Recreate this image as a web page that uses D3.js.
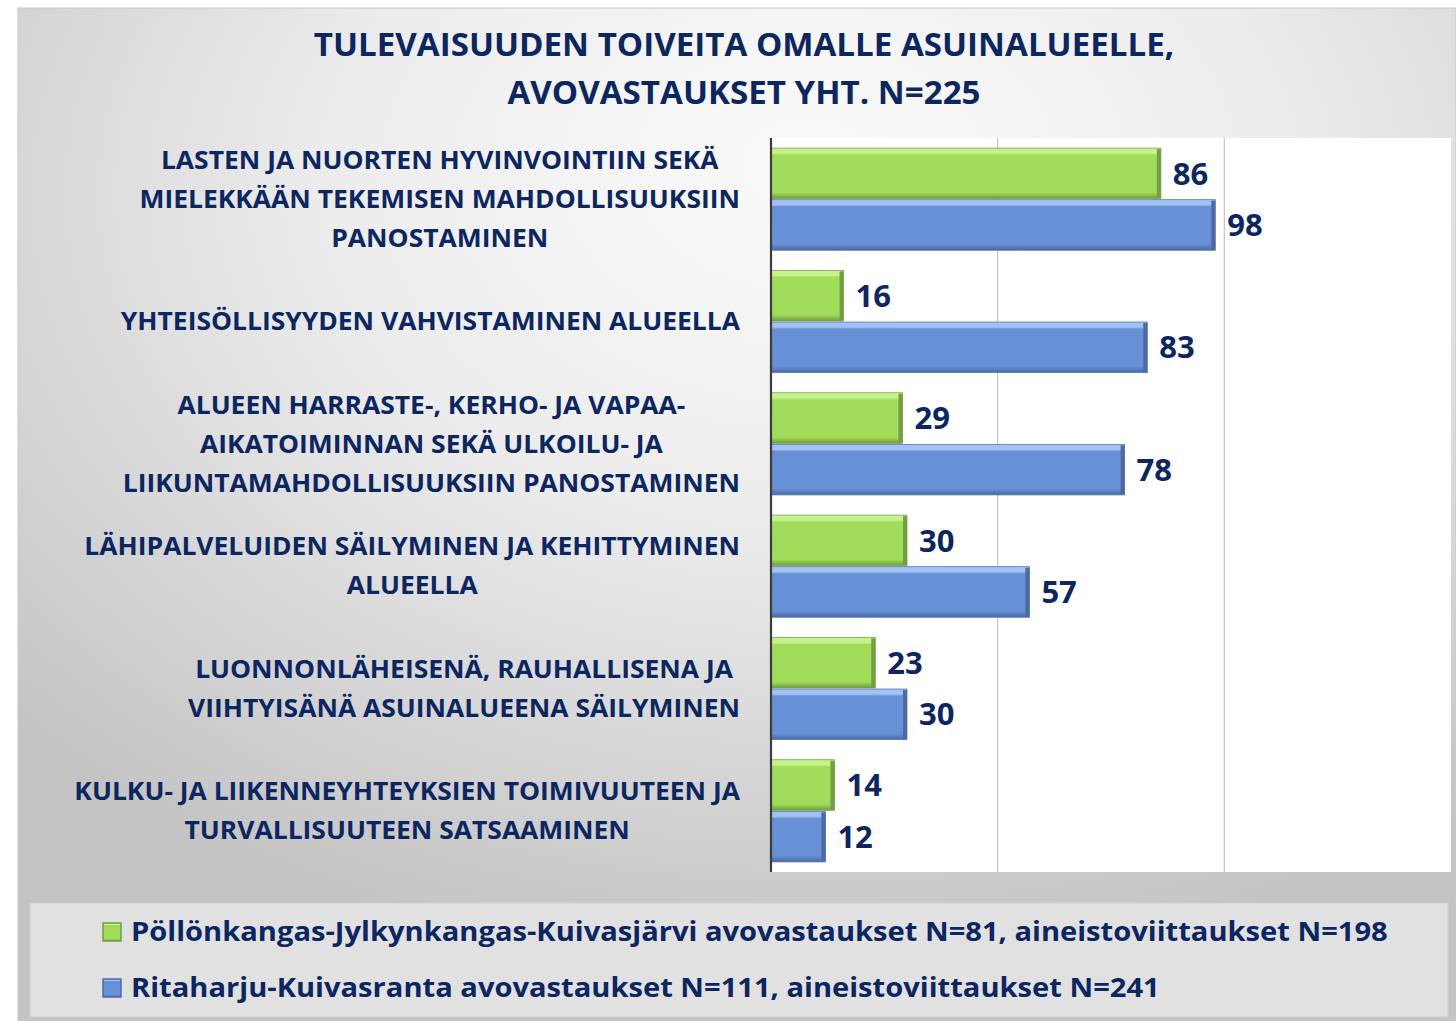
<!DOCTYPE html>
<html><head><meta charset="utf-8">
<script src="https://cdn.jsdelivr.net/npm/d3@7"></script>
<style>html,body{margin:0;padding:0;background:#fff;}svg{display:block;}</style>
</head><body>
<svg id="chart" width="1456" height="1021"></svg>
<script>
const titleLines = ["TULEVAISUUDEN TOIVEITA OMALLE ASUINALUEELLE,", "AVOVASTAUKSET YHT. N=225"];
const categories = [
  ["LASTEN JA NUORTEN HYVINVOINTIIN SEKÄ", "MIELEKKÄÄN TEKEMISEN MAHDOLLISUUKSIIN", "PANOSTAMINEN"],
  ["YHTEISÖLLISYYDEN VAHVISTAMINEN ALUEELLA"],
  ["ALUEEN HARRASTE-, KERHO- JA VAPAA-", "AIKATOIMINNAN SEKÄ ULKOILU- JA", "LIIKUNTAMAHDOLLISUUKSIIN PANOSTAMINEN"],
  ["LÄHIPALVELUIDEN SÄILYMINEN JA KEHITTYMINEN", "ALUEELLA"],
  ["LUONNONLÄHEISENÄ, RAUHALLISENA JA", "VIIHTYISÄNÄ ASUINALUEENA SÄILYMINEN"],
  ["KULKU- JA LIIKENNEYHTEYKSIEN TOIMIVUUTEEN JA", "TURVALLISUUTEEN SATSAAMINEN"]
];
const seriesNames = [
  "Pöllönkangas-Jylkynkangas-Kuivasjärvi avovastaukset N=81, aineistoviittaukset N=198",
  "Ritaharju-Kuivasranta avovastaukset N=111, aineistoviittaukset N=241"
];
const greenValues = [86, 16, 29, 30, 23, 14];
const blueValues = [98, 83, 78, 57, 30, 12];
const xTicks = [0, 50, 100, 150];

const W = 1456, H = 1021;
const FONT = "'Open Sans', 'DejaVu Sans', sans-serif";
const NAVY = "#0b2660";
const svg = d3.select("#chart");
const defs = svg.append("defs");

// background gradient
const bg = defs.append("radialGradient").attr("id", "bgGrad")
  .attr("cx", "0.55").attr("cy", "0.2").attr("r", "0.75").attr("fx", "0.55").attr("fy", "0.15");
bg.append("stop").attr("offset", "0%").attr("stop-color", "#fbfbfb");
bg.append("stop").attr("offset", "45%").attr("stop-color", "#ececec");
bg.append("stop").attr("offset", "100%").attr("stop-color", "#c4c4c4");

function barGrad(id, light, main, dark) {
  const g = defs.append("linearGradient").attr("id", id).attr("x1", 0).attr("y1", 0).attr("x2", 0).attr("y2", 1);
  g.append("stop").attr("offset", "0%").attr("stop-color", light);
  g.append("stop").attr("offset", "10%").attr("stop-color", light);
  g.append("stop").attr("offset", "14%").attr("stop-color", main);
  g.append("stop").attr("offset", "88%").attr("stop-color", main);
  g.append("stop").attr("offset", "100%").attr("stop-color", dark);
}
barGrad("gGreen", "#c6f28c", "#a0dc5a", "#6f9b3c");
barGrad("gBlue", "#a2c2f4", "#6890d6", "#4a68a6");
const colors = [{fill: "url(#gGreen)", edge: "#739f40", stroke: "#7aa648"}, {fill: "url(#gBlue)", edge: "#4b6aa6", stroke: "#5577b4"}];

svg.append("rect").attr("x", 0).attr("y", 0).attr("width", W).attr("height", H).attr("fill", "#ffffff");
svg.append("rect").attr("x", 18).attr("y", 8).attr("width", W - 18).attr("height", H - 8)
  .attr("fill", "url(#bgGrad)").attr("stroke", "#c8c8c8").attr("stroke-width", 1);

// title
svg.append("g").attr("transform", "translate(744,0) scale(1.02,1)")
  .append("text").attr("text-anchor", "middle")
  .attr("font-family", FONT).attr("font-weight", "bold").attr("font-size", 32.5).attr("fill", NAVY)
  .selectAll("tspan").data(titleLines).join("tspan")
  .attr("x", 0).attr("y", (d, i) => 56 + i * 48).text(d => d);

// plot area
const plot = {left: 771, right: 1451, top: 138, bottom: 872};
svg.append("rect").attr("x", plot.left).attr("y", plot.top).attr("width", plot.right - plot.left)
  .attr("height", plot.bottom - plot.top).attr("fill", "#ffffff");

const x = d3.scaleLinear().domain([0, 150]).range([plot.left, plot.right]);
const y = d3.scaleBand().domain(d3.range(categories.length)).range([plot.top, plot.bottom])
  .paddingInner(0.165).paddingOuter(0.0825);
const ySub = d3.scaleBand().domain([0, 1]).range([0, y.bandwidth()]).paddingInner(0.02);

// gridlines
svg.append("g").selectAll("line").data(xTicks.filter(t => t > 0 && t < 150)).join("line")
  .attr("x1", d => x(d)).attr("x2", d => x(d)).attr("y1", plot.top).attr("y2", plot.bottom)
  .attr("stroke", "#c4c4c4").attr("stroke-width", 1.2);

// bars
const series = [greenValues, blueValues];
series.forEach((vals, s) => {
  const g = svg.append("g");
  const rows = g.selectAll("g").data(vals).join("g")
    .attr("transform", (d, i) => `translate(0,${y(i) + ySub(s)})`);
  rows.append("rect").attr("x", x(0)).attr("y", 0)
    .attr("width", d => x(d) - x(0)).attr("height", ySub.bandwidth())
    .attr("fill", colors[s].fill).attr("stroke", colors[s].stroke).attr("stroke-width", 0.8);
  rows.append("rect").attr("x", d => x(d) - 4).attr("y", 1)
    .attr("width", 4).attr("height", ySub.bandwidth() - 2).attr("fill", colors[s].edge);
  rows.append("text").attr("x", d => x(d) + 12).attr("y", ySub.bandwidth() / 2)
    .attr("dy", "0.36em").attr("font-family", FONT).attr("font-weight", "bold")
    .attr("font-size", 31).attr("fill", NAVY).text(d => d);
});

// axis line
svg.append("line").attr("x1", plot.left).attr("x2", plot.left).attr("y1", plot.top).attr("y2", plot.bottom)
  .attr("stroke", "#3c3c3c").attr("stroke-width", 2.2);

// category labels: block right aligned at 740, lines centered within block
const LAB_FS = 24.5, LAB_LH = 39, LAB_SX = 1.08;
categories.forEach((lines, i) => {
  const t = svg.append("g").attr("transform", `translate(740,0) scale(${LAB_SX},1)`)
    .append("text").attr("font-family", FONT).attr("font-weight", "bold")
    .attr("font-size", LAB_FS).attr("fill", NAVY).attr("text-anchor", "middle");
  const cy = y(i) + y.bandwidth() / 2;
  const ts = t.selectAll("tspan").data(lines).join("tspan")
    .attr("y", (d, j) => cy + (j - (lines.length - 1) / 2) * LAB_LH).attr("dy", "0.36em").text(d => d);
  let maxW = 0;
  ts.each(function () { maxW = Math.max(maxW, this.getComputedTextLength()); });
  ts.attr("x", -maxW / 2);
});

// legend
svg.append("rect").attr("x", 30).attr("y", 903).attr("width", 1418).attr("height", 114)
  .attr("fill", "#e1e1e1").attr("stroke", "#d0d0d0");
const legY = [932, 988];
const leg = svg.append("g").selectAll("g").data(seriesNames).join("g")
  .attr("transform", (d, i) => `translate(0,${legY[i]})`);
leg.append("rect").attr("x", 103).attr("y", -9).attr("width", 18).attr("height", 18)
  .attr("fill", (d, i) => colors[i].fill).attr("stroke", (d, i) => colors[i].edge).attr("stroke-width", 1.5);
leg.append("g").attr("transform", "translate(131,0) scale(1.12,1)")
  .append("text").attr("x", 0).attr("y", 0).attr("dy", "0.36em")
  .attr("font-family", FONT).attr("font-weight", "bold").attr("font-size", 26).attr("fill", NAVY)
  .text(d => d);
</script>
</body></html>
